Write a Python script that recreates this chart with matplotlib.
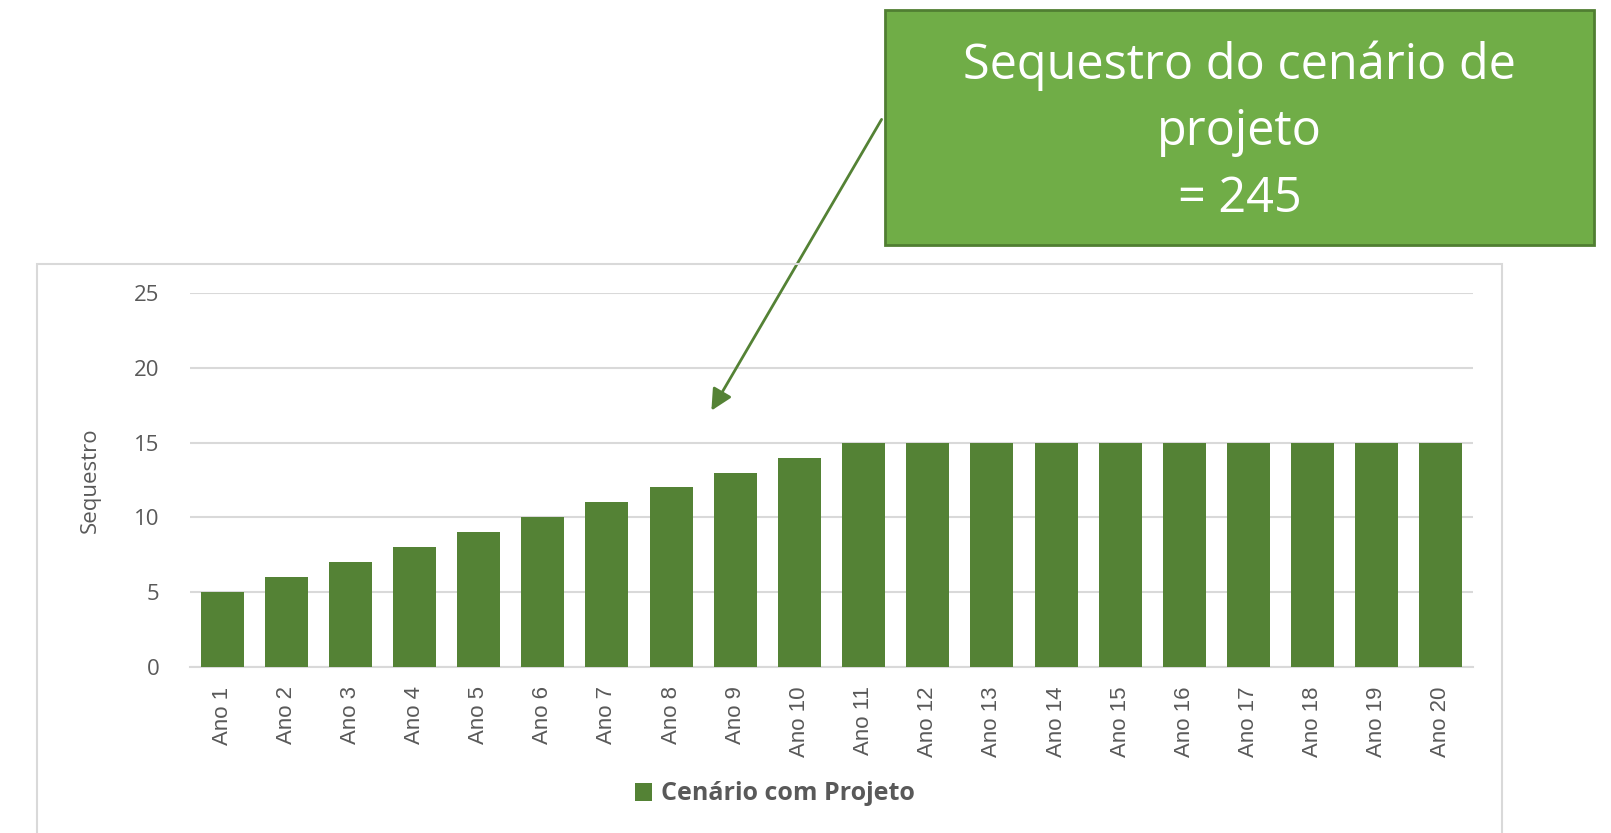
import matplotlib.pyplot as plt
from matplotlib.patches import Rectangle

# data
anos = [f"Ano {i}" for i in range(1, 21)]
sequestro = [5, 6, 7, 8, 9, 10, 11, 12, 13, 14,
             15, 15, 15, 15, 15, 15, 15, 15, 15, 15]
serie = "Cenário com Projeto"
total_label = "Sequestro do cenário de\nprojeto\n= 245"

W, H = 1611, 833
bar_color = "#548235"
box_color = "#70AD47"
grid_color = "#D9D9D9"
text_gray = "#595959"

fig = plt.figure(figsize=(W / 100, H / 100), dpi=100)

# outer chart frame
fig.add_artist(Rectangle((37 / W, -0.05), (1502 - 37) / W, 1.05 - 264 / H,
                         transform=fig.transFigure, fill=False,
                         edgecolor=grid_color, lw=1.5))

ax = fig.add_axes([190 / W, 1 - 667 / H, (1473 - 190) / W, (667 - 293) / H])
ax.bar(range(len(anos)), sequestro, width=0.67, color=bar_color, label=serie, zorder=3)
ax.set_xlim(-0.5, len(anos) - 0.5)
ax.set_ylim(0, 25)
ax.set_yticks([0, 5, 10, 15, 20, 25])
ax.set_xticks(range(len(anos)))
ax.set_xticklabels(anos, rotation=90, fontsize=16, family="Liberation Sans", color=text_gray)
for lbl in ax.get_yticklabels():
    lbl.set_fontsize(16)
    lbl.set_family("Open Sans")
    lbl.set_color(text_gray)
ax.tick_params(axis="both", length=0)
ax.tick_params(axis="x", pad=14)
ax.tick_params(axis="y", pad=22)
ax.grid(axis="y", color=grid_color, lw=1.5, zorder=0)
for side in ["top", "right", "left"]:
    ax.spines[side].set_visible(False)
ax.spines["bottom"].set_color(grid_color)
ax.spines["bottom"].set_linewidth(1.5)
ax.set_ylabel("Sequestro", fontsize=16, family="Open Sans", color=text_gray, labelpad=24)

leg = fig.legend(loc="center", bbox_to_anchor=(775 / W, 1 - 794 / H), frameon=False,
                 handlelength=0.7, handleheight=0.7, handletextpad=0.35,
                 prop={"family": "Open Sans", "weight": "bold", "size": 18})
for t in leg.get_texts():
    t.set_color(text_gray)

# callout box with total
fig.add_artist(Rectangle((885 / W, 1 - 245 / H), (1594 - 885) / W, (245 - 10) / H,
                         transform=fig.transFigure, facecolor=box_color,
                         edgecolor="#507E32", lw=2, zorder=5))
fig.text(1239.5 / W, 1 - 132 / H, total_label, ha="center", va="center",
         fontsize=35, family="Open Sans", color="white", linespacing=1.45, zorder=6)

ax.annotate("", xy=(710, H - 413), xycoords="figure pixels",
            xytext=(883, H - 117), textcoords="figure pixels",
            arrowprops=dict(arrowstyle="-|>", color=bar_color, lw=2, mutation_scale=32))

fig.savefig("out.png", dpi=100)
